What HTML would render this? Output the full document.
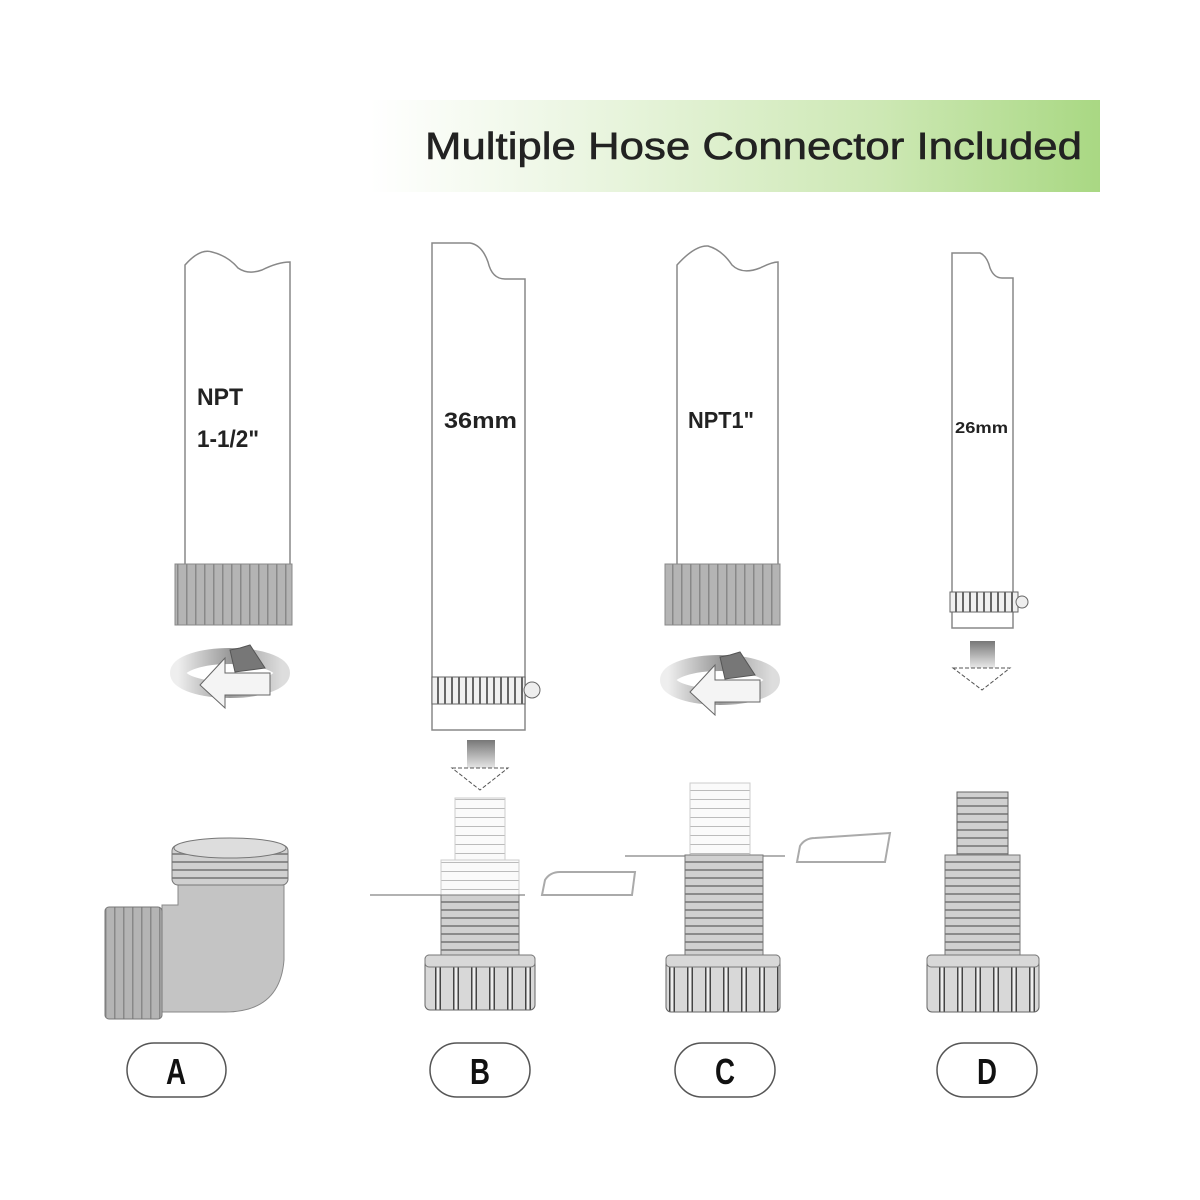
<!DOCTYPE html>
<html><head><meta charset="utf-8"><style>
html,body{margin:0;padding:0;background:#fff;}
svg{display:block;}
text{font-family:"Liberation Sans",sans-serif;}
</style></head><body>
<svg width="1200" height="1200" viewBox="0 0 1200 1200" xmlns="http://www.w3.org/2000/svg">
<defs>
<linearGradient id="ban" x1="0" x2="1" y1="0" y2="0">
<stop offset="0" stop-color="#ffffff"/><stop offset="0.25" stop-color="#eef7e6"/><stop offset="0.7" stop-color="#cde8b4"/><stop offset="1" stop-color="#a9d883"/>
</linearGradient>
<linearGradient id="arr" x1="0" x2="0" y1="0" y2="1">
<stop offset="0" stop-color="#777"/><stop offset="1" stop-color="#eee"/>
</linearGradient>
<linearGradient id="rot" x1="0" x2="1">
<stop offset="0" stop-color="#eee"/><stop offset="0.5" stop-color="#999"/><stop offset="1" stop-color="#ddd"/>
</linearGradient>
<pattern id="hl" width="10" height="8" patternUnits="userSpaceOnUse"><rect width="10" height="8" fill="#d0d0d0"/><rect y="5" width="10" height="2" fill="#8a8a8a"/></pattern>
<pattern id="hlw" width="10" height="9" patternUnits="userSpaceOnUse"><rect width="10" height="9" fill="#fafafa"/><rect y="7" width="10" height="1" fill="#bbb"/></pattern>
<pattern id="vl" width="9" height="10" patternUnits="userSpaceOnUse"><rect width="9" height="10" fill="#b4b4b4"/><rect x="6" width="1.5" height="10" fill="#888"/></pattern>
<pattern id="nut" width="18" height="10" patternUnits="userSpaceOnUse"><rect width="18" height="10" fill="#d8d8d8"/><rect x="3" width="6" height="10" fill="#444"/><rect x="4.5" width="3" height="10" fill="#eee"/></pattern>
<pattern id="clamp" width="7" height="10" patternUnits="userSpaceOnUse"><rect width="7" height="10" fill="#f0f0f0"/><rect x="3" width="2" height="10" fill="#666"/></pattern>
</defs>

<rect x="370" y="100" width="730" height="92" fill="url(#ban)"/>
<text x="425" y="159" font-size="38" fill="#222" stroke="#222" stroke-width="0.6" textLength="657" lengthAdjust="spacingAndGlyphs">Multiple Hose Connector Included</text>

<g fill="#fff" stroke="#888" stroke-width="1.5">
<path d="M185,265 Q200,248 212,252 Q228,256 238,268 Q248,275 262,270 Q278,262 290,262 L290,565 L185,565 Z"/>
<path d="M432,243 L470,243 Q482,245 488,262 Q492,279 505,279 L525,279 L525,730 L432,730 Z"/>
<path d="M677,265 Q695,245 708,246 Q722,250 732,265 Q742,275 760,268 Q772,262 778,262 L778,565 L677,565 Z"/>
<path d="M952,253 L980,253 Q987,256 990,268 Q994,278 1002,278 L1013,278 L1013,628 L952,628 Z"/>
</g>
<g font-weight="bold" fill="#222">
<text x="197" y="405" font-size="24" textLength="46" lengthAdjust="spacingAndGlyphs">NPT</text>
<text x="197" y="447" font-size="24" textLength="62" lengthAdjust="spacingAndGlyphs">1-1/2"</text>
<text x="444" y="428" font-size="22" textLength="73" lengthAdjust="spacingAndGlyphs">36mm</text>
<text x="688" y="428" font-size="23" textLength="66" lengthAdjust="spacingAndGlyphs">NPT1"</text>
<text x="955" y="433" font-size="16" textLength="53" lengthAdjust="spacingAndGlyphs">26mm</text>
</g>

<rect x="175" y="564" width="117" height="61" fill="url(#vl)" stroke="#888"/>
<rect x="665" y="564" width="115" height="61" fill="url(#vl)" stroke="#888"/>
<rect x="432" y="677" width="93" height="27" fill="url(#clamp)" stroke="#666"/>
<circle cx="532" cy="690" r="8" fill="#eee" stroke="#666"/>
<rect x="950" y="592" width="68" height="20" fill="url(#clamp)" stroke="#666"/>
<circle cx="1022" cy="602" r="6" fill="#eee" stroke="#666"/>

<g>
<ellipse cx="230" cy="673" rx="52" ry="17" fill="none" stroke="url(#rot)" stroke-width="16"/>
<path d="M230,650 L240,648 L250,645 L265,668 L235,672 Z" fill="#777" stroke="#555"/>
<path d="M225,658 L200,685 L225,708 L225,695 L270,695 L270,673 L225,673 Z" fill="#f4f4f4" stroke="#666"/>
<ellipse cx="720" cy="680" rx="52" ry="17" fill="none" stroke="url(#rot)" stroke-width="16"/>
<path d="M720,657 L730,655 L740,652 L755,675 L725,679 Z" fill="#777" stroke="#555"/>
<path d="M715,665 L690,692 L715,715 L715,702 L760,702 L760,680 L715,680 Z" fill="#f4f4f4" stroke="#666"/>
</g>
<rect x="467" y="740" width="28" height="30" fill="url(#arr)"/>
<path d="M452,768 L508,768 L480,790 Z" fill="#fff" stroke="#555" stroke-dasharray="4 2"/>
<rect x="970" y="641" width="25" height="28" fill="url(#arr)"/>
<path d="M953,668 L1010,668 L982,690 Z" fill="#fff" stroke="#555" stroke-dasharray="4 2"/>

<path d="M178,885 L284,885 L284,960 Q280,1012 225,1012 L162,1012 L162,905 L178,905 Z" fill="#c4c4c4" stroke="#888"/>
<rect x="172" y="845" width="116" height="40" rx="6" fill="url(#hl)" stroke="#777"/>
<ellipse cx="230" cy="848" rx="56" ry="10" fill="#ddd" stroke="#777"/>
<rect x="105" y="907" width="57" height="112" rx="4" fill="url(#vl)" stroke="#777"/>

<line x1="370" y1="895" x2="525" y2="895" stroke="#999" stroke-width="1.5"/>
<line x1="625" y1="856" x2="785" y2="856" stroke="#999" stroke-width="1.5"/>
<path d="M542,895 L545,880 Q550,872 560,872 L635,872 L632,895 Z" fill="#fff" stroke="#aaa" stroke-width="2"/>
<path d="M797,862 L800,846 Q805,838 815,838 L890,833 L885,862 Z" fill="#fff" stroke="#aaa" stroke-width="2"/>

<rect x="455" y="798" width="50" height="62" fill="url(#hlw)" stroke="#ccc"/>
<rect x="441" y="860" width="78" height="35" fill="url(#hlw)" stroke="#ccc"/>
<rect x="441" y="895" width="78" height="62" fill="url(#hl)" stroke="#777"/>
<rect x="425" y="955" width="110" height="55" rx="5" fill="url(#nut)" stroke="#666"/>
<rect x="425" y="955" width="110" height="12" rx="4" fill="#d8d8d8" stroke="#777"/>

<rect x="690" y="783" width="60" height="72" fill="url(#hlw)" stroke="#ccc"/>
<rect x="685" y="855" width="78" height="103" fill="url(#hl)" stroke="#777"/>
<rect x="666" y="955" width="114" height="57" rx="5" fill="url(#nut)" stroke="#666"/>
<rect x="666" y="955" width="114" height="12" rx="4" fill="#d8d8d8" stroke="#777"/>

<rect x="957" y="792" width="51" height="65" fill="url(#hl)" stroke="#666"/>
<rect x="945" y="855" width="75" height="103" fill="url(#hl)" stroke="#777"/>
<rect x="927" y="955" width="112" height="57" rx="5" fill="url(#nut)" stroke="#666"/>
<rect x="927" y="955" width="112" height="12" rx="4" fill="#d8d8d8" stroke="#777"/>

<g fill="#fff" stroke="#555" stroke-width="1.5">
<rect x="127" y="1043" width="99" height="54" rx="27"/>
<rect x="430" y="1043" width="100" height="54" rx="27"/>
<rect x="675" y="1043" width="100" height="54" rx="27"/>
<rect x="937" y="1043" width="100" height="54" rx="27"/>
</g>
<g font-size="36" font-weight="bold" fill="#111" text-anchor="middle">
<text x="176" y="1084" textLength="20" lengthAdjust="spacingAndGlyphs">A</text>
<text x="480" y="1084" textLength="20" lengthAdjust="spacingAndGlyphs">B</text>
<text x="725" y="1084" textLength="20" lengthAdjust="spacingAndGlyphs">C</text>
<text x="987" y="1084" textLength="20" lengthAdjust="spacingAndGlyphs">D</text>
</g>
</svg>
</body></html>
